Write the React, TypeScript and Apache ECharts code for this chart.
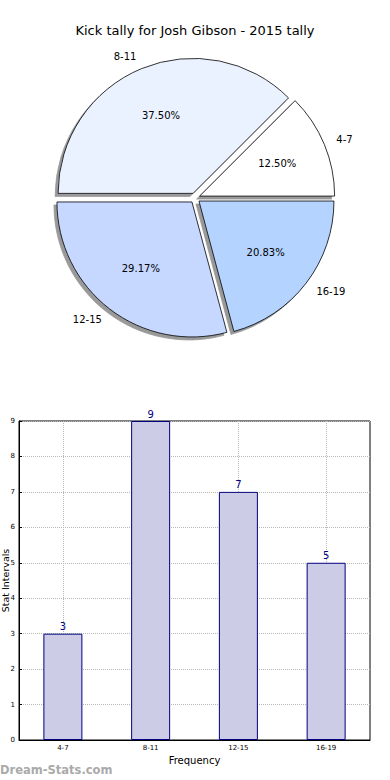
import React, { useEffect, useRef } from "react";
import * as echarts from "echarts";

const categories = ["4-7", "8-11", "12-15", "16-19"];
const tallies = [3, 9, 7, 5];
const sliceColors = ["#ffffff", "#eaf1ff", "#c6d8ff", "#b4d4ff"];
const yTicks = [0, 9, 1];
const titleText = "Kick tally for Josh Gibson - 2015 tally";

const FONT = "DejaVu Sans";

export default function App() {
  const ref = useRef<HTMLDivElement>(null);
  useEffect(() => {
    document.body.style.margin = "0";
    if (!ref.current) return;
    const chart = echarts.init(ref.current, undefined, { renderer: "svg" });
    const total = tallies.reduce((a, b) => a + b, 0);
    const R = 135;
    const pieData = categories.map((c, i) => ({
      name: c,
      value: tallies[i],
      selected: true,
      itemStyle: { color: sliceColors[i] },
    }));
    const pctData = categories.map((c, i) => ({
      name: c,
      value: tallies[i],
      selected: true,
    }));
    chart.setOption({
      animation: false,
      textStyle: { fontFamily: FONT },
      title: {
        text: titleText,
        left: "center",
        top: 19,
        textStyle: { fontFamily: FONT, fontSize: 13, fontWeight: "normal", color: "#000" },
      },
      graphic: [
        {
          type: "text",
          left: 0,
          top: 764,
          style: {
            text: "Dream-Stats.com",
            fontFamily: FONT,
            fontSize: 11.5,
            fontWeight: "bold",
            fill: "#aaaaaa",
          },
        },
      ],
      grid: {
        left: 19,
        right: 20,
        top: 421,
        bottom: 40,
        containLabel: false,
        outerBoundsMode: "none",
        show: true,
        borderColor: "#000",
        borderWidth: 1,
      },
      xAxis: {
        type: "category",
        data: categories,
        name: "Frequency",
        nameLocation: "middle",
        nameGap: 15,
        nameMoveOverlap: false,
        nameTextStyle: { fontFamily: FONT, fontSize: 10, color: "#000" },
        axisLine: { lineStyle: { color: "#000" } },
        axisTick: { alignWithLabel: true, inside: true, length: 3, lineStyle: { color: "#000" } },
        axisLabel: { fontFamily: FONT, fontSize: 7, color: "#000", margin: 4 },
        splitLine: {
          show: true,
          alignWithLabel: true,
          lineStyle: { type: "dotted", color: "#b8b8b8", width: 1 },
        },
      },
      yAxis: {
        type: "value",
        min: yTicks[0],
        max: yTicks[1],
        interval: yTicks[2],
        name: "Stat Intervals",
        nameLocation: "middle",
        nameGap: 9,
        nameMoveOverlap: false,
        nameTextStyle: { fontFamily: FONT, fontSize: 9.5, color: "#000" },
        axisLine: { show: true, lineStyle: { color: "#000" } },
        axisTick: { show: true, inside: true, length: 3, lineStyle: { color: "#000" } },
        axisLabel: { fontFamily: FONT, fontSize: 7, color: "#000", margin: 4 },
        splitLine: { show: true, lineStyle: { type: "dotted", color: "#b8b8b8", width: 1 } },
      },
      series: [
        {
          type: "pie",
          center: [195, 198],
          radius: R,
          startAngle: 0,
          clockwise: false,
          avoidLabelOverlap: false,
          selectedMode: "multiple",
          selectedOffset: 5,
          data: pieData,
          itemStyle: {
            borderColor: "#000",
            borderWidth: 0.8,
            shadowColor: "rgba(0,0,0,0.4)",
            shadowBlur: 1,
            shadowOffsetX: -3,
            shadowOffsetY: 3,
          },
          label: {
            show: true,
            position: "outside",
            distanceToLabelLine: 0,
            fontFamily: FONT,
            fontSize: 10,
            color: "#000",
          },
          labelLine: { show: false, length: 13, length2: 0 },
          emphasis: { disabled: true },
        },
        {
          type: "pie",
          center: [195, 198],
          radius: R * 1.2,
          startAngle: 0,
          clockwise: false,
          avoidLabelOverlap: false,
          selectedMode: "multiple",
          selectedOffset: 5,
          silent: true,
          data: pctData,
          itemStyle: { color: "rgba(0,0,0,0)", borderWidth: 0 },
          label: {
            show: true,
            position: "inside",
            fontFamily: FONT,
            fontSize: 10,
            color: "#000",
            formatter: (p: any) => ((p.value / total) * 100).toFixed(2) + "%",
          },
          labelLine: { show: false },
          emphasis: { disabled: true },
        },
        {
          type: "bar",
          data: tallies,
          barWidth: 39,
          itemStyle: { color: "#ccccE6", borderColor: "#000080", borderWidth: 1 },
          label: {
            show: true,
            position: "top",
            distance: 2,
            fontFamily: FONT,
            fontSize: 10,
            color: "#000080",
          },
          emphasis: { disabled: true },
        },
      ],
    });
    return () => chart.dispose();
  }, []);
  return <div ref={ref} style={{ width: 390, height: 780 }} />;
}
